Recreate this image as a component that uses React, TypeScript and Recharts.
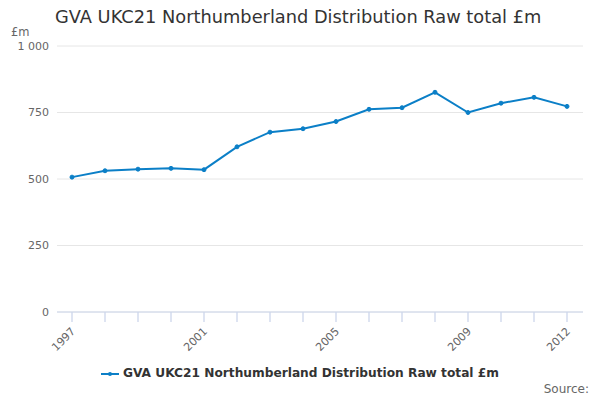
import { LineChart, Line, XAxis, YAxis, CartesianGrid } from "recharts";

const years = [
  "1997", "1998", "1999", "2000", "2001", "2002", "2003", "2004",
  "2005", "2006", "2007", "2008", "2009", "2010", "2011", "2012",
];
const rawTotal = [507, 531, 537, 540, 535, 621, 676, 689, 716, 762, 768, 826, 750, 785, 807, 773];
const yTicks = [0, 250, 500, 750, 1000];
const labelledYears = ["1997", "2001", "2005", "2009", "2012"];

const seriesName = "GVA UKC21 Northumberland Distribution Raw total £m";
const lineColor = "#0b7fc7";
const axisColor = "#ccd6eb";
const font = "'DejaVu Sans', sans-serif";

const data = years.map((year, i) => ({ year, value: rawTotal[i] }));

const formatY = (v: number) => (v >= 1000 ? "1 000" : String(v));

// y arrives as axis line + tickSize(10) + tickMargin(2)
function XTick(props: any) {
  const { x, y, payload } = props;
  const showLabel = labelledYears.includes(payload.value);
  return (
    <g>
      <line x1={x} x2={x} y1={y - 12} y2={y - 2} stroke={axisColor} strokeWidth={1.3} />
      {showLabel && (
        <text
          x={x + 4}
          y={y + 8}
          transform={`rotate(-45, ${x + 4}, ${y + 8})`}
          textAnchor="end"
          fontSize={11}
          fill="#666"
          fontFamily={font}
        >
          {payload.value}
        </text>
      )}
    </g>
  );
}

export default function App() {
  return (
    <div
      style={{
        position: "absolute",
        left: 0,
        top: 0,
        width: 600,
        height: 400,
        background: "#fff",
        fontFamily: font,
      }}
    >
      <div style={{ position: "absolute", left: 55, top: 6, fontSize: 17.8, color: "#333" }}>
        GVA UKC21 Northumberland Distribution Raw total £m
      </div>
      <div style={{ position: "absolute", left: 11, top: 25, fontSize: 11.5, color: "#666" }}>£m</div>

      <LineChart
        width={600}
        height={400}
        data={data}
        margin={{ top: 46, right: 17, bottom: 48, left: 0 }}
      >
        <CartesianGrid vertical={false} stroke="#e6e6e6" />
        <XAxis
          dataKey="year"
          interval={0}
          padding={{ left: 15, right: 16 }}
          stroke={axisColor}
          tickLine={false}
          tickSize={10}
          height={40}
          tick={<XTick />}
        />
        <YAxis
          domain={[0, 1000]}
          ticks={yTicks}
          tickFormatter={formatY}
          axisLine={false}
          tickLine={false}
          width={57}
          tick={{ fontSize: 11, fill: "#666", fontFamily: font }}
        />
        <Line
          dataKey="value"
          stroke={lineColor}
          strokeWidth={2}
          dot={{ r: 2, fill: lineColor, stroke: lineColor, strokeWidth: 1 }}
          isAnimationActive={false}
        />
      </LineChart>

      <div
        style={{
          position: "absolute",
          left: 0,
          width: 600,
          top: 366,
          textAlign: "center",
          fontSize: 12.2,
          fontWeight: "bold",
          color: "#333",
        }}
      >
        <svg width={18} height={10} style={{ marginRight: 4, verticalAlign: "middle" }}>
          <line x1={0} y1={5} x2={18} y2={5} stroke={lineColor} strokeWidth={2} />
          <circle cx={9} cy={5} r={2} fill={lineColor} />
        </svg>
        {seriesName}
      </div>
      <div style={{ position: "absolute", right: 11, top: 382, fontSize: 12, color: "#666" }}>
        Source:
      </div>
    </div>
  );
}
